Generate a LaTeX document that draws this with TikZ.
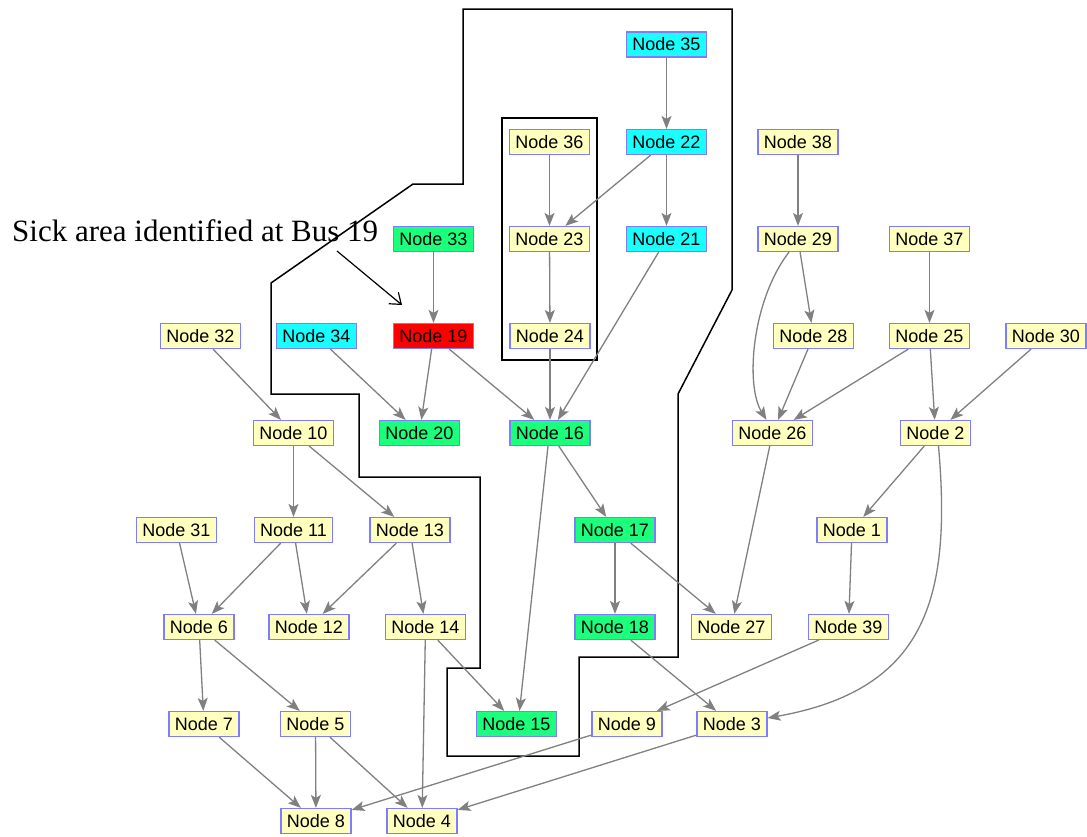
\documentclass[tikz,border=0pt]{standalone}
\usepackage{fontspec}
\setmainfont{Liberation Serif}
\newfontfamily\nodefontfam{Liberation Sans}
\usetikzlibrary{arrows.meta}
\definecolor{ylw}{RGB}{255,255,190}
\definecolor{grn}{RGB}{28,255,125}
\definecolor{cyn}{RGB}{25,255,255}
\definecolor{rd}{RGB}{255,0,0}
\definecolor{bord}{RGB}{125,125,255}
\definecolor{edgegray}{RGB}{128,128,128}
\tikzset{
  nd/.style={draw=bord, line width=1.2pt, fill=ylw, font=\nodefontfam\fontsize{18}{20}\selectfont,
    minimum height=25pt, inner xsep=6pt, inner ysep=0pt, text=black},
  ndg/.style={nd, fill=grn},
  ndc/.style={nd, fill=cyn},
  ndr/.style={nd, fill=rd},
  ed/.style={draw=edgegray, line width=1.3pt, -{Stealth[length=13pt,width=10pt,inset=3pt]}},
  region/.style={draw=black, line width=1.5pt},
}
\begin{document}
\begin{tikzpicture}[x=1pt,y=-1pt]
\useasboundingbox (0,0) rectangle (1087,836);
% regions
\draw[region] (463,9) -- (732,9) -- (732,290) -- (678,394) -- (678,657) -- (579,657) -- (579,756) -- (447,756) -- (447,668) -- (480,668) -- (480,477) -- (359,477) -- (359,394) -- (271,394) -- (271,283) -- (413,184) -- (463,184) -- cycle;
\draw[region] (502,118) rectangle (597,360);
% nodes
\node[ndc] (n35) at (666.5,44.5) {Node 35};
\node[nd]  (n36) at (549.5,142) {Node 36};
\node[ndc] (n22) at (666.5,142) {Node 22};
\node[nd]  (n38) at (798,142) {Node 38};
\node[ndg] (n33) at (433.5,239) {Node 33};
\node[nd]  (n23) at (549.5,239) {Node 23};
\node[ndc] (n21) at (666.5,239) {Node 21};
\node[nd]  (n29) at (798,239) {Node 29};
\node[nd]  (n37) at (929.5,239) {Node 37};
\node[nd]  (n32) at (200.5,336) {Node 32};
\node[ndc] (n34) at (316.5,336) {Node 34};
\node[ndr] (n19) at (433.5,336) {Node 19};
\node[nd]  (n24) at (550,336) {Node 24};
\node[nd]  (n28) at (813.5,336) {Node 28};
\node[nd]  (n25) at (929.5,336) {Node 25};
\node[nd]  (n30) at (1046,336) {Node 30};
\node[nd]  (n10) at (293.5,433) {Node 10};
\node[ndg] (n20) at (419.5,433) {Node 20};
\node[ndg] (n16) at (550,433) {Node 16};
\node[nd]  (n26) at (772.5,433) {Node 26};
\node[nd]  (n2)  at (935.5,433) {Node 2};
\node[nd]  (n31) at (176.5,530) {Node 31};
\node[nd]  (n11) at (293.5,530) {Node 11};
\node[nd]  (n13) at (410,530) {Node 13};
\node[ndg] (n17) at (615,530) {Node 17};
\node[nd]  (n1)  at (852,530) {Node 1};
\node[nd]  (n6)  at (199,627) {Node 6};
\node[nd]  (n12) at (309,627) {Node 12};
\node[nd]  (n14) at (425.5,627) {Node 14};
\node[ndg] (n18) at (615,627) {Node 18};
\node[nd]  (n27) at (731.5,627) {Node 27};
\node[nd]  (n39) at (848.5,627) {Node 39};
\node[nd]  (n7)  at (204,724) {Node 7};
\node[nd]  (n5)  at (315.5,724) {Node 5};
\node[ndg] (n15) at (516.5,724) {Node 15};
\node[nd]  (n9)  at (627,724) {Node 9};
\node[nd]  (n3)  at (732,724) {Node 3};
\node[nd]  (n8)  at (316,821) {Node 8};
\node[nd]  (n4)  at (422,821) {Node 4};
% annotation
\node[anchor=base west, inner sep=0pt, font=\fontsize{31}{33}\selectfont] (ann) at (12,241) {Sick area identified at Bus 19};
\coordinate (annS) at (337,251);
\coordinate (annE) at (402,305);
\draw[black, line width=1.2pt, -{Straight Barb[length=10pt,width=15pt,line width=1.2pt]}] (annS) -- (annE);
% edges
\draw[ed] (n35) -- (n22);
\draw[ed] (n22) -- (n23);
\draw[ed] (n36) -- (n23);
\draw[ed] (n22) -- (n21);
\draw[ed] (n23) -- (n24);
\draw[ed] (n24) -- (n16);
\draw[ed] (n21) -- (n16);
\draw[ed] (n19) -- (n16);
\draw[ed] (n33) -- (n19);
\draw[ed] (n19) -- (n20);
\draw[ed] (n34) -- (n20);
\draw[ed] (n32) -- (n10);
\draw[ed] (n38) -- (n29);
\draw[ed] (n29) -- (n28);
\draw[ed] ([xshift=-9pt]n29.south) .. controls (752,300) and (745,385) .. ([xshift=-6pt]n26.north);
\draw[ed] (n28) -- (n26);
\draw[ed] (n25) -- (n26);
\draw[ed] (n37) -- (n25);
\draw[ed] (n25) -- (n2);
\draw[ed] (n30) -- (n2);
\draw[ed] (n10) -- (n11);
\draw[ed] (n10) -- (n13);
\draw[ed] (n16) -- (n17);
\draw[ed] ([xshift=-2pt]n16.south) -- ([xshift=3pt]n15.north);
\draw[ed] (n2) -- (n1);
\draw[ed] ([xshift=3pt]n2.south) .. controls (952,600) and (925,690) .. ([yshift=6pt]n3.east);
\draw[ed] (n26) -- (n27);
\draw[ed] (n17) -- (n18);
\draw[ed] (n17) -- (n27);
\draw[ed] (n1) -- (n39);
\draw[ed] (n31) -- (n6);
\draw[ed] (n11) -- (n6);
\draw[ed] (n11) -- (n12);
\draw[ed] (n13) -- (n12);
\draw[ed] (n13) -- (n14);
\draw[ed] (n14) -- (n15);
\draw[ed] (n14) -- (n4);
\draw[ed] (n18) -- (n3);
\draw[ed] (n39) -- (n9);
\draw[ed] (n6) -- (n7);
\draw[ed] (n6) -- (n5);
\draw[ed] (n7) -- (n8);
\draw[ed] (n5) -- (n8);
\draw[ed] (n5) -- (n4);
\draw[ed] (n9) -- (n8);
\draw[ed] (n3) -- (n4);
\end{tikzpicture}
\end{document}
